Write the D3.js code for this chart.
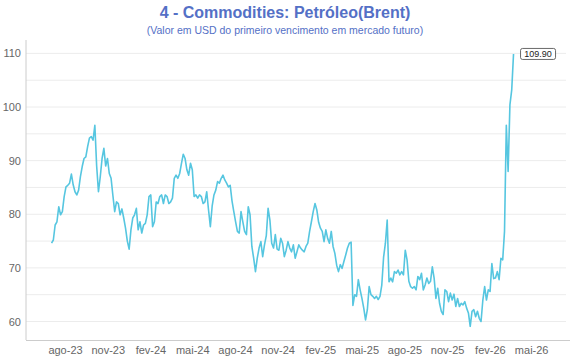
<!DOCTYPE html>
<meta charset="utf-8">
<script src="https://d3js.org/d3.v7.min.js"></script>
<style>
  body { margin: 0; background: #fff; }
  text { font-family: "Liberation Sans", Arial, Helvetica, sans-serif; }
</style>
<body>
<div id="chart"></div>
<script>
// titles
var title = "4 - Commodities: Petróleo(Brent)"
var subtitle = "(Valor em USD do primeiro vencimento em mercado futuro)"

// series: Brent, sampled evenly between first and last date
var startDate = "2023-07-03"
var endDate = "2026-03-24"
var values = [
  74.6, 75.2, 78.0, 78.6, 81.4, 79.9, 80.5, 83.3, 85.1, 85.4,
  85.8, 87.5, 85.5, 84.2, 83.6, 84.5, 87.0, 88.9, 90.4, 90.7,
  92.6, 94.2, 94.5, 93.8, 96.6, 89.0, 84.2, 87.0, 90.4, 92.3,
  89.0, 90.4, 87.6, 86.7, 83.5, 80.5, 82.3, 82.0, 79.9, 81.0,
  79.3, 77.4, 75.0, 73.5, 77.1, 79.3, 79.9, 81.1, 77.1, 78.6,
  76.5, 78.0, 78.3, 79.9, 83.3, 83.6, 77.7, 78.6, 82.3, 82.0,
  83.3, 83.6, 82.0, 83.6, 83.3, 82.0, 82.3, 83.0, 86.7, 87.3,
  86.7, 87.6, 89.5, 91.2, 90.4, 88.3, 87.3, 89.5, 88.3, 83.3,
  83.6, 83.0, 83.6, 83.3, 82.0, 82.3, 84.2, 80.8, 77.7, 81.5,
  83.6, 84.5, 86.1, 85.8, 86.7, 87.3, 86.4, 85.8, 85.1, 85.4,
  82.5, 80.5, 78.6, 76.8, 76.5, 80.5, 78.6, 76.8, 76.2, 81.4,
  79.9, 74.0, 71.8, 69.3, 71.8, 73.7, 74.9, 72.1, 74.3, 76.0,
  81.1, 78.9, 74.6, 73.7, 76.2, 73.5, 73.3, 75.5, 74.6, 72.1,
  73.3, 74.9, 73.7, 73.0, 74.3, 71.8, 73.0, 74.3, 73.7, 73.3,
  73.0, 74.0, 74.6, 76.8, 78.6, 80.5, 82.0, 80.8, 78.5, 77.4,
  76.8, 74.9, 77.1, 75.5, 74.6, 76.8, 74.0, 72.7, 70.5, 69.3,
  70.6, 69.9, 71.2, 72.4, 73.7, 74.6, 74.8, 63.0, 65.0, 64.7,
  67.8, 65.9, 64.3, 62.5, 60.3, 62.2, 66.5, 65.0, 64.7, 64.3,
  64.7, 64.1, 64.7, 66.8, 72.0, 74.6, 78.9, 67.4, 68.1, 67.4,
  69.3, 69.0, 69.6, 68.7, 69.3, 68.7, 73.3, 71.5, 67.5, 66.5,
  66.2, 66.5, 65.9, 68.4, 67.8, 69.0, 65.9, 66.8, 68.1, 67.1,
  67.5, 70.2, 68.1, 64.3, 66.2, 63.4, 61.9, 61.3, 65.9, 65.6,
  63.7, 65.3, 64.0, 65.1, 62.8, 64.3, 62.8, 63.4, 63.1, 63.7,
  62.5, 61.6, 59.1, 61.9, 62.2, 60.9, 61.9, 60.6, 60.0, 64.0,
  66.5, 64.0, 65.9, 65.6, 70.8, 68.0, 68.1, 69.3, 67.8, 71.8,
  71.5, 76.8, 96.6, 88.0, 100.4, 103.2, 109.9
]

// axis ticks
var xTickDates = ["2023-08-01", "2023-11-01", "2024-02-01", "2024-05-01", "2024-08-01", "2024-11-01",
                  "2025-02-01", "2025-05-01", "2025-08-01", "2025-11-01", "2026-02-01", "2026-05-01"]
var xTickLabels = ["ago-23", "nov-23", "fev-24", "mai-24", "ago-24", "nov-24",
                   "fev-25", "mai-25", "ago-25", "nov-25", "fev-26", "mai-26"]
var yTicks = [60, 70, 80, 90, 100, 110]
var yGrid = [60, 65, 70, 75, 80, 85, 90, 95, 100, 105, 110]

var width = 570,
    height = 360
var plotLeft = 26, plotRight = 566, plotTop = 40, plotBottom = 340

var parse = d3.utcParse("%Y-%m-%d")
var t0 = parse(startDate), t1 = parse(endDate)
var data = values.map(function(v, i) {
  return { date: new Date(+t0 + (t1 - t0) * i / (values.length - 1)), value: v }
})

var svg = d3.select("#chart")
  .append("svg")
    .attr("width", width)
    .attr("height", height)

var x = d3.scaleUtc()
  .domain([parse("2023-05-09"), parse("2026-07-15")])
  .range([plotLeft, plotRight])

var y = d3.scaleLinear()
  .domain([56.55, 112.5])
  .range([plotBottom, plotTop])

// title
svg.append("text")
  .attr("x", 285).attr("y", 18)
  .attr("text-anchor", "middle")
  .style("font-size", "16px").style("font-weight", "bold")
  .style("fill", "#5470c6")
  .text(title)

svg.append("text")
  .attr("x", 285).attr("y", 34)
  .attr("text-anchor", "middle")
  .style("font-size", "10.5px")
  .style("fill", "#5470c6")
  .text(subtitle)

// grid
svg.append("g")
  .selectAll("line")
  .data(yGrid)
  .enter()
  .append("line")
    .attr("x1", plotLeft).attr("x2", plotRight)
    .attr("y1", function(d) { return y(d) }).attr("y2", function(d) { return y(d) })
    .attr("stroke", "#ececec")
    .attr("stroke-width", 1)

// y axis
var gy = svg.append("g")
  .attr("transform", "translate(" + plotLeft + ",0)")
  .call(d3.axisLeft(y).tickValues(yTicks).tickSize(0).tickPadding(5))
gy.select(".domain").remove()
gy.selectAll("text").style("font-size", "11px").style("fill", "#666")
svg.append("line")
  .attr("x1", plotLeft).attr("x2", plotLeft)
  .attr("y1", plotTop).attr("y2", plotBottom)
  .attr("stroke", "#ccc")

// x axis
var gx = svg.append("g")
  .attr("transform", "translate(0," + plotBottom + ")")
  .call(d3.axisBottom(x)
    .tickValues(xTickDates.map(parse))
    .tickFormat(function(d, i) { return xTickLabels[i] })
    .tickSize(0)
    .tickPadding(6))
gx.select(".domain").remove()
gx.selectAll("text").style("font-size", "11px").style("fill", "#666")
svg.append("line")
  .attr("x1", plotLeft).attr("x2", width)
  .attr("y1", plotBottom + 0.5).attr("y2", plotBottom + 0.5)
  .attr("stroke", "#ccc")

// line
svg.append("path")
  .datum(data)
  .attr("fill", "none")
  .attr("stroke", "#56c6e0")
  .attr("stroke-width", 1.6)
  .attr("stroke-linejoin", "round")
  .attr("d", d3.line()
    .x(function(d) { return x(d.date) })
    .y(function(d) { return y(d.value) }))

// end label
var last = data[data.length - 1]
var lx = x(last.date) + 7, ly = y(last.value)
var lab = svg.append("g").attr("transform", "translate(" + lx + "," + ly + ")")
lab.append("rect")
  .attr("x", 0).attr("y", -5.5)
  .attr("width", 35).attr("height", 11)
  .attr("rx", 2)
  .attr("fill", "#fff")
  .attr("stroke", "#444")
  .attr("stroke-width", 0.8)
lab.append("text")
  .attr("x", 17.5).attr("y", 3.2)
  .attr("text-anchor", "middle")
  .style("font-size", "9px")
  .style("fill", "#222")
  .text(d3.format(".2f")(last.value))
</script>
</body>
